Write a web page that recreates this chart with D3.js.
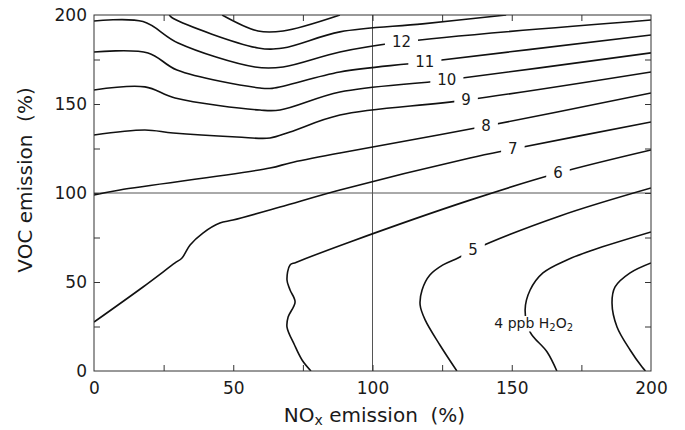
<!DOCTYPE html>
<html lang="en">
<head>
  <meta charset="UTF-8">
  <title>H2O2 isopleths vs NOx and VOC emission</title>
  <style>
    body { margin: 0; background: #fff; }
    svg text { font-family: "DejaVu Sans", "Liberation Sans", sans-serif; fill: #1a1a1a; }
  </style>
</head>
<body>
  <div id="chart"></div>

  <script src="https://d3js.org/d3.v7.min.js"></script>
  <script>
    // tick values (% of base emission)
    const xTicks = [0, 50, 100, 150, 200];
    const yTicks = [0, 50, 100, 150, 200];
    const minorTicks = [25, 50, 75, 100, 125, 150, 175];
    const gridX = [100];
    const gridY = [100];

    // contour lines, [NOx %, VOC %]
    const c14 = [[46, 200], [58.9, 191], [67.9, 191], [88.3, 200]];
    const c13 = [[27, 200], [28.5, 198], [58.9, 181.5], [67.9, 181.5], [88.3, 190.5], [118, 195], [148, 200]];
    const c12 = [[0, 196.6], [17.6, 196.3], [30.2, 184.3], [57.8, 170.8], [67.9, 170.8], [88.3, 179.2], [110.4, 184.8], [200, 197.2]];
    const c11 = [[0, 179.2], [19.4, 178.7], [29.8, 169.1], [59.6, 159], [64, 158.8], [88.3, 168], [118.8, 173.6], [200, 188.8]];
    const c10 = [[0, 157.9], [18.3, 159.6], [29.1, 153.4], [59.6, 146.6], [66.8, 146.6], [88.3, 156.7], [126.7, 163.5], [200, 178.7]];
    const c9 = [[0, 132.6], [18.3, 135.4], [28.4, 133.7], [51.3, 131.5], [63.2, 130.9], [70.4, 134.3], [88.3, 143.8], [133.6, 152.2], [200, 168]];
    const c8 = [[0, 98.9], [9.3, 101.7], [63.2, 114], [70.4, 116.9], [88.3, 122.5], [140.8, 137.6], [200, 156.2]];
    const c7 = [[0, 27.5], [17.6, 47.2], [29.1, 60.7], [31.6, 63.5], [34.5, 70.8], [39.1, 77.5], [45.2, 83.1], [49.9, 84.8], [66.8, 92.1], [88.3, 101.7], [135, 119.7], [150.4, 124.7], [200, 139.9]];
    const c6 = [[77.9, 0], [74.7, 6.2], [72, 14.6], [69.3, 24.7], [69.7, 30.3], [72.2, 38.8], [70.4, 45.5], [69.3, 51.1], [70.4, 59.6], [72.5, 61], [91.9, 72.5], [135, 96], [166.6, 111.2], [200, 124.2]];
    const c5 = [[130.3, 0], [124.2, 14.6], [118.9, 28.7], [117.1, 37.1], [117.8, 45.5], [120.6, 53.9], [125.3, 59.6], [130.7, 63.5], [136.1, 68], [167.3, 87.1], [200, 102.8]];
    const c4 = [[166.2, 0], [162.7, 10.7], [156.6, 21.9], [154.8, 34.3], [156.6, 45.5], [161.2, 55.1], [169.8, 62.4], [179.2, 68], [200, 78.1]];
    const c3 = [[198, 0], [196.8, 2.2], [192.5, 11.8], [187.8, 24.7], [186, 38.2], [187.1, 47.2], [192.5, 55.1], [200, 60.7]];

    const contours = [c14, c13, c12, c11, c10, c9, c8, c7, c6, c5, c4, c3];

    // in-line contour labels
    const labelText = ['12', '11', '10', '9', '8', '7', '6', '5', '4 ppb H2O2'];
    const labelPos = [[110.4, 184.8], [118.8, 173.6], [126.7, 163.5], [133.6, 152.2], [140.8, 137.6], [150.4, 124.7], [166.6, 111.2], [136.1, 68], [157.9, 27]];

    const margin = { top: 15, right: 34, bottom: 59, left: 94 };
    const width = 685 - margin.left - margin.right;
    const height = 430 - margin.top - margin.bottom;

    const svg = d3.select('#chart')
      .append('svg')
      .attr('width', width + margin.left + margin.right)
      .attr('height', height + margin.top + margin.bottom)
      .append('g')
      .attr('transform', `translate(${margin.left}, ${margin.top})`);

    const xScale = d3.scaleLinear().domain([0, 200]).range([0, width]);
    const yScale = d3.scaleLinear().domain([0, 200]).range([height, 0]);

    svg.append('clipPath')
      .attr('id', 'plot-clip')
      .append('rect')
      .attr('width', width)
      .attr('height', height);

    // reference lines at 100 %
    svg.selectAll('.grid-x')
      .data(gridX)
      .enter()
      .append('line')
      .attr('x1', d => xScale(d))
      .attr('x2', d => xScale(d))
      .attr('y1', 0)
      .attr('y2', height)
      .attr('stroke', '#555')
      .attr('stroke-width', 1);

    svg.selectAll('.grid-y')
      .data(gridY)
      .enter()
      .append('line')
      .attr('x1', 0)
      .attr('x2', width)
      .attr('y1', d => yScale(d))
      .attr('y2', d => yScale(d))
      .attr('stroke', '#555')
      .attr('stroke-width', 1);

    const line = d3.line()
      .x(d => xScale(d[0]))
      .y(d => yScale(d[1]))
      .curve(d3.curveCatmullRom.alpha(0.5));

    svg.append('g')
      .attr('clip-path', 'url(#plot-clip)')
      .selectAll('path')
      .data(contours)
      .enter()
      .append('path')
      .attr('d', line)
      .attr('fill', 'none')
      .attr('stroke', '#111')
      .attr('stroke-width', 1.6)
      .attr('stroke-linejoin', 'round');

    // labels sit on a white patch that breaks the line
    labelText.forEach((t, i) => {
      const g = svg.append('g');
      const txt = g.append('text')
        .attr('x', xScale(labelPos[i][0]))
        .attr('y', yScale(labelPos[i][1]))
        .attr('dy', '0.36em')
        .attr('text-anchor', 'middle')
        .style('font-size', t.length > 2 ? '14px' : '15px');

      const parts = t.split(/(?<=[A-Z])(\d)/);
      parts.forEach((p, k) => {
        if (p === '') return;
        const sub = k % 2 === 1;
        txt.append('tspan')
          .attr('baseline-shift', sub ? '-25%' : null)
          .style('font-size', sub ? '10px' : null)
          .text(p);
      });

      const bb = txt.node().getBBox();
      g.insert('rect', 'text')
        .attr('x', bb.x - 7)
        .attr('y', bb.y + 1)
        .attr('width', bb.width + 14)
        .attr('height', bb.height - 2)
        .attr('fill', '#fff');
    });

    // frame
    svg.append('rect')
      .attr('width', width)
      .attr('height', height)
      .attr('fill', 'none')
      .attr('stroke', '#333')
      .attr('stroke-width', 1);

    // inward minor ticks on all four sides
    const tickLen = 6;
    svg.append('g')
      .attr('transform', `translate(0, ${height})`)
      .call(d3.axisBottom(xScale).tickValues(minorTicks).tickSize(-tickLen).tickFormat(''))
      .call(g => g.select('.domain').remove());
    svg.append('g')
      .call(d3.axisTop(xScale).tickValues(minorTicks).tickSize(-tickLen).tickFormat(''))
      .call(g => g.select('.domain').remove());
    svg.append('g')
      .call(d3.axisLeft(yScale).tickValues(minorTicks).tickSize(-tickLen).tickFormat(''))
      .call(g => g.select('.domain').remove());
    svg.append('g')
      .attr('transform', `translate(${width}, 0)`)
      .call(d3.axisRight(yScale).tickValues(minorTicks).tickSize(-tickLen).tickFormat(''))
      .call(g => g.select('.domain').remove());
    svg.selectAll('.tick line').attr('stroke', '#333');

    // tick labels
    svg.append('g')
      .attr('class', 'x-axis')
      .attr('transform', `translate(0, ${height})`)
      .call(d3.axisBottom(xScale).tickValues(xTicks).tickSize(0).tickPadding(11))
      .call(g => g.select('.domain').remove())
      .selectAll('text')
      .style('font-size', '17px')
      .attr('fill', '#1a1a1a');

    svg.append('g')
      .attr('class', 'y-axis')
      .call(d3.axisLeft(yScale).tickValues(yTicks).tickSize(0).tickPadding(7))
      .call(g => g.select('.domain').remove())
      .selectAll('text')
      .style('font-size', '17px')
      .attr('fill', '#1a1a1a');

    svg.selectAll('.x-axis text, .y-axis text').style('font-family', '"DejaVu Sans", sans-serif');

    // axis titles
    const xTitle = svg.append('text')
      .attr('x', width / 2 + 2)
      .attr('y', height + 51)
      .attr('text-anchor', 'middle')
      .style('font-size', '20px')
      .style('white-space', 'pre');
    xTitle.append('tspan').text('NO');
    xTitle.append('tspan').attr('baseline-shift', '-20%').style('font-size', '14px').text('x');
    xTitle.append('tspan').text(' emission  (%)');

    svg.append('text')
      .attr('transform', 'rotate(-90)')
      .attr('x', -165)
      .attr('y', -margin.left + 32)
      .attr('text-anchor', 'middle')
      .style('font-size', '20px')
      .style('white-space', 'pre')
      .text('VOC emission  (%)');
  </script>
</body>
</html>
